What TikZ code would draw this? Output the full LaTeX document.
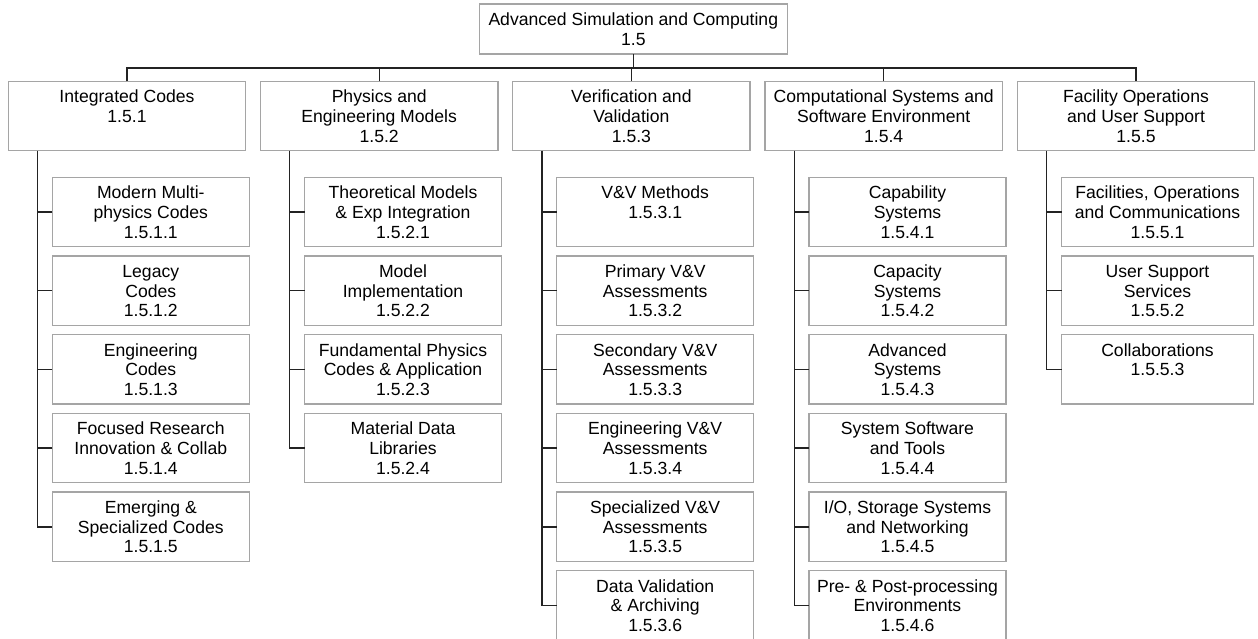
\documentclass[tikz,border=0pt]{standalone}
\usepackage{fontspec}
\setmainfont{Liberation Sans}
\definecolor{boxgray}{RGB}{165,165,165}
\definecolor{linegray}{RGB}{35,35,35}
\newcommand{\bt}[3]{\parbox[c][#2pt][t]{#1pt}{\centering\rule{0pt}{21.5pt}#3}}
\newcommand{\pt}[1]{\bt{237.4}{69.4}{#1}}
\newcommand{\ct}[1]{\bt{197}{69.4}{#1}}
\newcommand{\cft}[1]{\bt{191.6}{69.4}{#1}}
\begin{document}
\begin{tikzpicture}[x=1pt,y=-1pt,
  box/.style={draw=boxgray, line width=1.3pt, inner sep=0pt, outer sep=0pt,
    anchor=north west, font=\fontsize{17.6}{19.6}\selectfont},
  link/.style={draw=linegray, line width=1.4pt}]
\useasboundingbox (0,0) rectangle (1258,638);
% root
\node[box] (root) at (479.3,4) {\bt{308}{50}{Advanced Simulation and Computing\\1.5}};
% level 1
\node[box] (c1) at (8.3,81.3)    {\pt{Integrated Codes\\1.5.1}};
\node[box] (c2) at (260.5,81.3)  {\pt{Physics and\\Engineering Models\\1.5.2}};
\node[box] (c3) at (512.7,81.3)  {\pt{Verification and\\Validation\\1.5.3}};
\node[box] (c4) at (765,81.3)    {\pt{Computational Systems and\\Software Environment\\1.5.4}};
\node[box] (c5) at (1017.3,81.3) {\pt{Facility Operations\\and User Support\\1.5.5}};
% group 1
\node[box] (a1) at (52.3,177.3) {\ct{Modern Multi-\\physics Codes\\1.5.1.1}};
\node[box] (a2) at (52.3,256.0) {\ct{Legacy\\Codes\\1.5.1.2}};
\node[box] (a3) at (52.3,334.7) {\ct{Engineering\\Codes\\1.5.1.3}};
\node[box] (a4) at (52.3,413.4) {\ct{Focused Research\\Innovation \& Collab\\1.5.1.4}};
\node[box] (a5) at (52.3,492.1) {\ct{Emerging \&\\Specialized Codes\\1.5.1.5}};
% group 2
\node[box] (b1) at (304.5,177.3) {\ct{Theoretical Models\\\& Exp Integration\\1.5.2.1}};
\node[box] (b2) at (304.5,256.0) {\ct{Model\\Implementation\\1.5.2.2}};
\node[box] (b3) at (304.5,334.7) {\ct{Fundamental Physics\\Codes \& Application\\1.5.2.3}};
\node[box] (b4) at (304.5,413.4) {\ct{Material Data\\Libraries\\1.5.2.4}};
% group 3
\node[box] (d1) at (556.7,177.3) {\ct{V\&V Methods\\1.5.3.1}};
\node[box] (d2) at (556.7,256.0) {\ct{Primary V\&V\\Assessments\\1.5.3.2}};
\node[box] (d3) at (556.7,334.7) {\ct{Secondary V\&V\\Assessments\\1.5.3.3}};
\node[box] (d4) at (556.7,413.4) {\ct{Engineering V\&V\\Assessments\\1.5.3.4}};
\node[box] (d5) at (556.7,492.1) {\ct{Specialized V\&V\\Assessments\\1.5.3.5}};
\node[box] (d6) at (556.7,570.8) {\ct{Data Validation\\\& Archiving\\1.5.3.6}};
% group 4
\node[box] (e1) at (809,177.3) {\ct{Capability\\Systems\\1.5.4.1}};
\node[box] (e2) at (809,256.0) {\ct{Capacity\\Systems\\1.5.4.2}};
\node[box] (e3) at (809,334.7) {\ct{Advanced\\Systems\\1.5.4.3}};
\node[box] (e4) at (809,413.4) {\ct{System Software\\and Tools\\1.5.4.4}};
\node[box] (e5) at (809,492.1) {\ct{I/O, Storage Systems\\and Networking\\1.5.4.5}};
\node[box] (e6) at (809,570.8) {\ct{Pre- \& Post-processing\\Environments\\1.5.4.6}};
% group 5
\node[box] (f1) at (1061.7,177.3) {\cft{Facilities, Operations\\and Communications\\1.5.5.1}};
\node[box] (f2) at (1061.7,256.0) {\cft{User Support\\Services\\1.5.5.2}};
\node[box] (f3) at (1061.7,334.7) {\cft{Collaborations\\1.5.5.3}};
% top connectors
\coordinate (bar) at (0,68);
\draw[link] (root.south) -- (root.south |- bar);
\draw[link] (c1.north) -- (c1.north |- bar) -- (c5.north |- bar) -- (c5.north);
\foreach \c in {c2,c3,c4} \draw[link] (\c.north) -- (\c.north |- bar);
% trunks
\coordinate (t1) at ([xshift=29.4pt]c1.south west);
\coordinate (t2) at ([xshift=29.0pt]c2.south west);
\coordinate (t3) at ([xshift=29.3pt]c3.south west);
\coordinate (t4) at ([xshift=29.3pt]c4.south west);
\coordinate (t5) at ([xshift=29.4pt]c5.south west);
\draw[link] (t1) |- (a5.west);
\foreach \n in {a1,a2,a3,a4} \draw[link] (\n.west) -- (\n.west -| t1);
\draw[link] (t2) |- (b4.west);
\foreach \n in {b1,b2,b3} \draw[link] (\n.west) -- (\n.west -| t2);
\draw[link] (t3) |- (d6.west);
\foreach \n in {d1,d2,d3,d4,d5} \draw[link] (\n.west) -- (\n.west -| t3);
\draw[link] (t4) |- (e6.west);
\foreach \n in {e1,e2,e3,e4,e5} \draw[link] (\n.west) -- (\n.west -| t4);
\draw[link] (t5) |- (f3.west);
\foreach \n in {f1,f2} \draw[link] (\n.west) -- (\n.west -| t5);
\end{tikzpicture}
\end{document}
